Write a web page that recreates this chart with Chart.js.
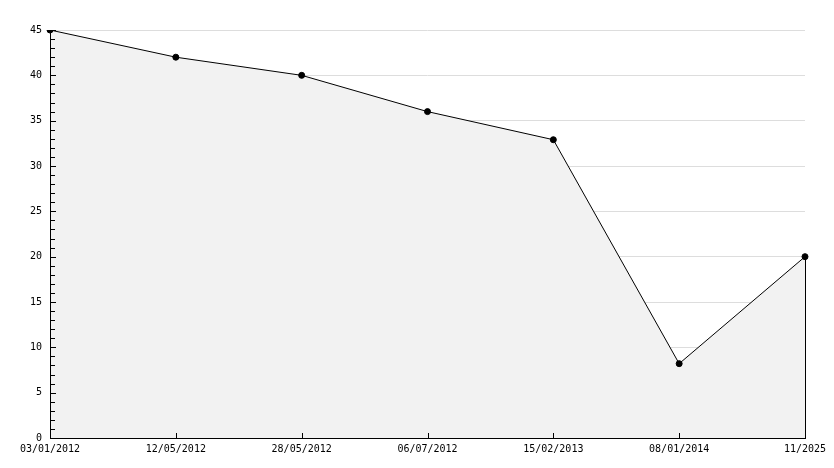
<!DOCTYPE html>
<html>
<head>
<meta charset="utf-8">
<script src="https://cdn.jsdelivr.net/npm/chart.js@4/dist/chart.umd.min.js"></script>
<style>
html,body{margin:0;padding:0;background:#fff;}
#wrap{width:834px;height:468px;position:relative;}
</style>
</head>
<body>
<div id="wrap"><canvas id="c"></canvas></div>
<script>
const categories = ['03/01/2012','12/05/2012','28/05/2012','06/07/2012','15/02/2013','08/01/2014','11/2025'];
const values = [45, 42, 40, 36, 32.9, 8.2, 20];
const yMin = 0, yMax = 45, majorStep = 5, minorStep = 1;

const axesPlugin = {
  id: 'axesPlugin',
  afterDatasetsDraw(chart) {
    const ctx = chart.ctx;
    const x = chart.scales.x, y = chart.scales.y;
    const a = chart.chartArea;
    ctx.save();
    ctx.strokeStyle = '#000';
    ctx.lineWidth = 1;
    ctx.beginPath();
    // y axis
    ctx.moveTo(a.left + 0.5, y.getPixelForValue(yMax));
    ctx.lineTo(a.left + 0.5, y.getPixelForValue(yMin) + 0.5);
    // x axis
    ctx.moveTo(a.left, y.getPixelForValue(yMin) + 0.5);
    ctx.lineTo(a.right + 1, y.getPixelForValue(yMin) + 0.5);
    // y ticks inside
    for (let v = yMin; v <= yMax; v += minorStep) {
      const py = Math.round(y.getPixelForValue(v)) + 0.5;
      const len = (v % majorStep === 0) ? 5 : 4;
      ctx.moveTo(a.left, py);
      ctx.lineTo(a.left + 1 + len, py);
    }
    // x ticks inside
    for (let i = 1; i < categories.length - 1; i++) {
      const px = Math.round(x.getPixelForValue(i)) + 0.5;
      const by = y.getPixelForValue(yMin);
      ctx.moveTo(px, by);
      ctx.lineTo(px, by - 5);
    }
    // right edge of filled area
    const last = categories.length - 1;
    const rx = Math.round(x.getPixelForValue(last)) + 0.5;
    ctx.moveTo(rx, y.getPixelForValue(values[last]));
    ctx.lineTo(rx, y.getPixelForValue(yMin));
    ctx.stroke();
    ctx.restore();
  }
};

new Chart(document.getElementById('c'), {
  type: 'line',
  data: {
    labels: categories,
    datasets: [{
      data: values,
      borderColor: '#000',
      borderWidth: 1,
      backgroundColor: '#f2f2f2',
      fill: 'origin',
      tension: 0,
      pointRadius: 3,
      pointBackgroundColor: '#000',
      pointBorderColor: '#000',
      pointBorderWidth: 1
    }]
  },
  options: {
    responsive: true,
    maintainAspectRatio: false,
    animation: false,
    layout: { padding: { top: 30, right: 29, left: 0, bottom: 0 } },
    plugins: { legend: { display: false }, tooltip: { enabled: false } },
    scales: {
      x: {
        offset: false,
        grid: { display: false, drawTicks: false },
        border: { display: false },
        ticks: { color: '#000', font: { family: 'DejaVu Sans Mono', size: 10 }, padding: 5, maxRotation: 0, autoSkip: false },
        afterFit(s) { s.height = 30; }
      },
      y: {
        min: yMin, max: yMax,
        grid: {
          drawTicks: false,
          color: (c) => (c.tick && c.tick.value % majorStep === 0 && c.tick.value !== 0) ? '#dddddd' : 'rgba(0,0,0,0)'
        },
        border: { display: false },
        ticks: {
          stepSize: minorStep,
          autoSkip: false,
          color: '#000',
          padding: 8,
          font: { family: 'DejaVu Sans Mono', size: 10 },
          callback: (v) => (v % majorStep === 0 ? String(v) : '')
        },
        afterFit(s) { s.width = 50; }
      }
    }
  },
  plugins: [axesPlugin]
});
</script>
</body>
</html>
